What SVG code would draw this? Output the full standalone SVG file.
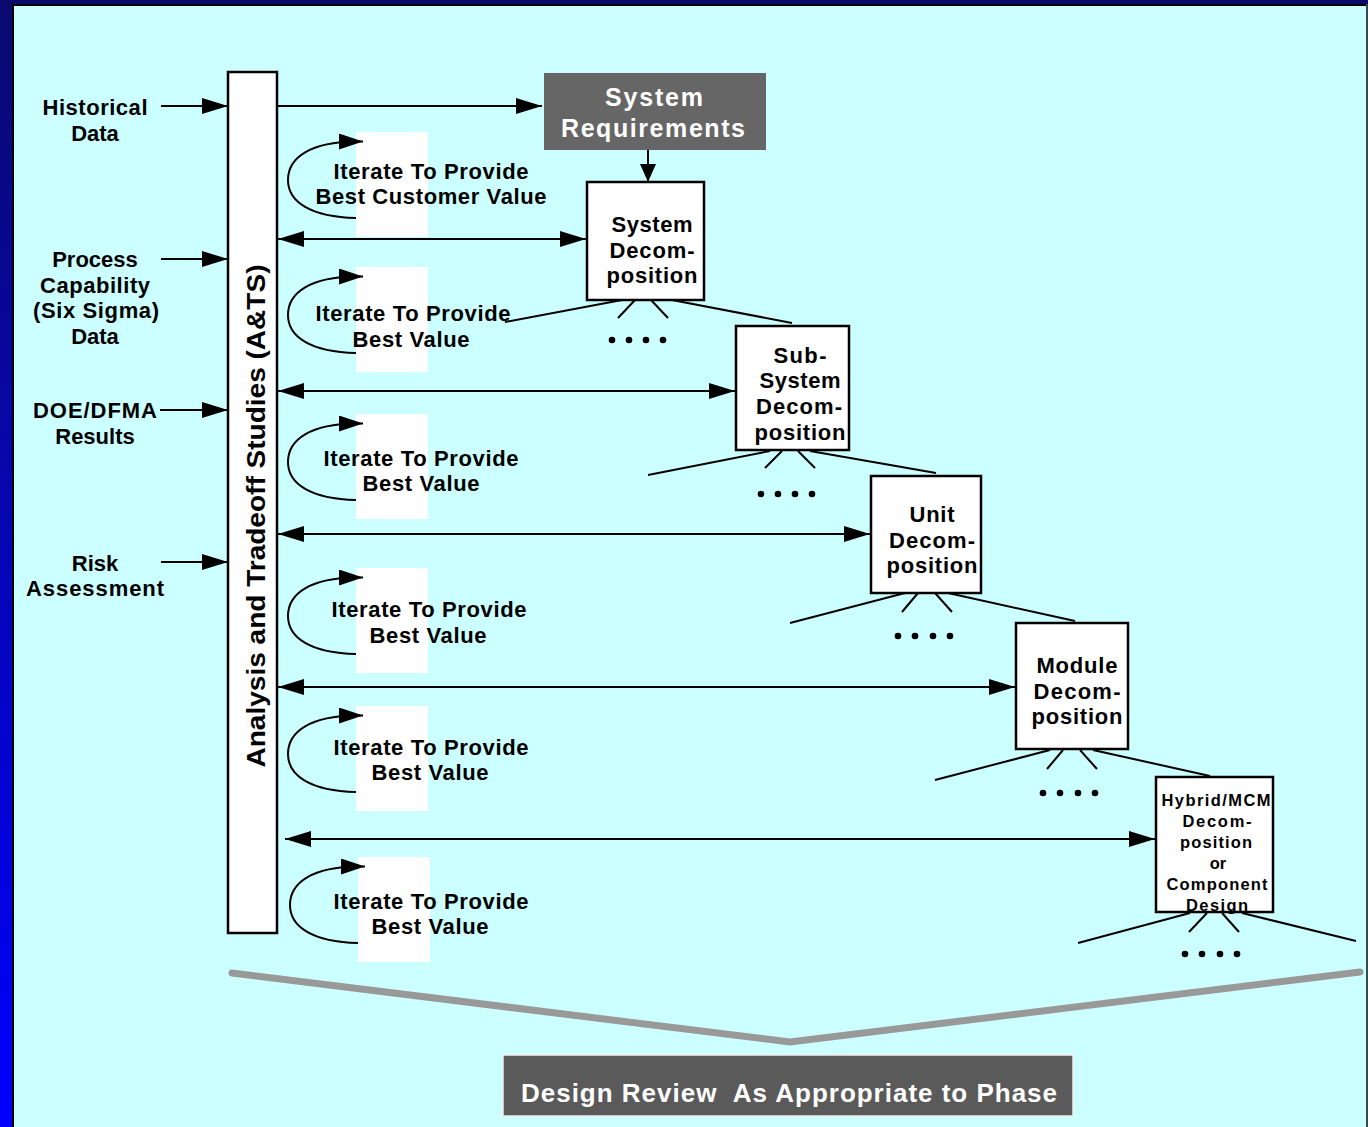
<svg xmlns="http://www.w3.org/2000/svg" width="1368" height="1127" viewBox="0 0 1368 1127">
<defs>
<linearGradient id="side" x1="0" y1="0" x2="0" y2="1">
<stop offset="0" stop-color="#0a0a70"/>
<stop offset="1" stop-color="#0000ff"/>
</linearGradient>
<marker id="ah" viewBox="0 0 26 16" refX="26" refY="8" markerWidth="26" markerHeight="16" markerUnits="userSpaceOnUse" orient="auto-start-reverse">
<path d="M0,0 L26,8 L0,16 z" fill="#000"/>
</marker>
<marker id="ahs" viewBox="0 0 18 16" refX="18" refY="8" markerWidth="18" markerHeight="16" markerUnits="userSpaceOnUse" orient="auto-start-reverse">
<path d="M0,0 L18,8 L0,16 z" fill="#000"/>
</marker>
<marker id="ahl" viewBox="0 0 24 16" refX="24" refY="8" markerWidth="24" markerHeight="16" markerUnits="userSpaceOnUse" orient="auto">
<path d="M0,0 L24,8 L0,16 z" fill="#000"/>
</marker>
<path id="loop" d="M0,86 C-45,85 -68,70 -68,48 C-68,25 -45,10 0,9.5 L7,9.5" fill="none" stroke="#000" stroke-width="2" marker-end="url(#ahl)"/>
</defs>
<style>
.t{font-family:"Liberation Sans",Arial,sans-serif;font-weight:bold;fill:#000;text-anchor:middle}
.lbl{font-size:22px}
.box{fill:#fff;stroke:#000;stroke-width:2.5}
.ln{stroke:#000;stroke-width:2;fill:none}
.arr{stroke:#000;stroke-width:2;fill:none;marker-end:url(#ah)}
.dbl{stroke:#000;stroke-width:2;fill:none;marker-start:url(#ah);marker-end:url(#ah)}
.wt{fill:#fff}
.dot{fill:#000}
</style>
<!-- background frame -->
<rect x="0" y="0" width="1368" height="1127" fill="url(#side)"/>
<rect x="0" y="0" width="1368" height="4" fill="#0a0a6a"/>
<rect x="12" y="4" width="1356" height="1123" fill="#000"/>
<rect x="14" y="6" width="1352" height="1121" fill="#ccffff"/>
<rect x="1366" y="4" width="2" height="1123" fill="#3a4a4a"/>

<!-- connectors -->
<g id="connectors">
<line class="arr" x1="161" y1="106" x2="228" y2="106"/>
<line class="arr" x1="161" y1="259" x2="228" y2="259"/>
<line class="arr" x1="160" y1="410" x2="228" y2="410"/>
<line class="arr" x1="161" y1="562" x2="228" y2="562"/>
<line class="arr" x1="278" y1="106" x2="542" y2="106"/>
<path class="ln" d="M648,150 L648,182" marker-end="url(#ahs)"/>
<line class="dbl" x1="278" y1="239" x2="586" y2="239"/>
<line class="dbl" x1="278" y1="391" x2="735" y2="391"/>
<line class="dbl" x1="278" y1="534" x2="870" y2="534"/>
<line class="dbl" x1="278" y1="687" x2="1015" y2="687"/>
<line class="dbl" x1="285" y1="839" x2="1155" y2="839"/>
<!-- tree lines -->
<path class="ln" d="M622,300 L505,322 M672,300 L792,323 M635,300 L618,318 M651,300 L668,318"/>
<path class="ln" d="M770,451 L648,475 M810,451 L936,473 M782,451 L765,468 M798,451 L815,468"/>
<path class="ln" d="M905,593 L790,623 M948,593 L1075,621 M918,593 L902,612 M935,593 L952,612"/>
<path class="ln" d="M1050,750 L935,780 M1093,750 L1210,776 M1063,750 L1047,769 M1080,750 L1097,769"/>
<path class="ln" d="M1190,913 L1078,943 M1242,913 L1356,941 M1207,913 L1189,932 M1222,913 L1239,932"/>
<!-- review V -->
<path d="M232,973 L790,1042 L1360,972" fill="none" stroke="#999" stroke-width="7" stroke-linecap="round" stroke-linejoin="miter"/>
</g>

<!-- dots -->
<g id="dots">
<circle class="dot" cx="612" cy="340" r="3.3"/><circle class="dot" cx="629" cy="340" r="3.3"/><circle class="dot" cx="646" cy="340" r="3.3"/><circle class="dot" cx="663" cy="340" r="3.3"/>
<circle class="dot" cx="761" cy="494" r="3.3"/><circle class="dot" cx="778" cy="494" r="3.3"/><circle class="dot" cx="795" cy="494" r="3.3"/><circle class="dot" cx="812" cy="494" r="3.3"/>
<circle class="dot" cx="898" cy="636" r="3.3"/><circle class="dot" cx="915" cy="636" r="3.3"/><circle class="dot" cx="933" cy="636" r="3.3"/><circle class="dot" cx="950" cy="636" r="3.3"/>
<circle class="dot" cx="1043" cy="793" r="3.3"/><circle class="dot" cx="1060" cy="793" r="3.3"/><circle class="dot" cx="1078" cy="793" r="3.3"/><circle class="dot" cx="1095" cy="793" r="3.3"/>
<circle class="dot" cx="1185" cy="954" r="3.3"/><circle class="dot" cx="1202" cy="954" r="3.3"/><circle class="dot" cx="1220" cy="954" r="3.3"/><circle class="dot" cx="1237" cy="954" r="3.3"/>
</g>

<!-- inputs -->
<g id="historical"><text class="t lbl" x="95" y="115" textLength="105">Historical</text><text class="t lbl" x="95" y="141">Data</text></g>
<g id="process">
<text class="t lbl" x="95" y="267">Process</text>
<text class="t lbl" x="95" y="293" textLength="110">Capability</text>
<text class="t lbl" x="96" y="318" textLength="126">(Six Sigma)</text>
<text class="t lbl" x="95" y="344">Data</text>
</g>
<g id="doe"><text class="t lbl" x="95" y="418" textLength="124">DOE/DFMA</text><text class="t lbl" x="95" y="444">Results</text></g>
<g id="risk"><text class="t lbl" x="95" y="571">Risk</text><text class="t lbl" x="95" y="596" textLength="138">Assessment</text></g>

<!-- A&TS bar -->
<g id="ats">
<rect class="box" x="228" y="72" width="49" height="861"/>
<text class="t" x="0" y="0" font-size="26" textLength="503" lengthAdjust="spacingAndGlyphs" transform="translate(265,516) rotate(-90)">Analysis and Tradeoff Studies (A&amp;TS)</text>
</g>

<!-- iterate loops -->
<g id="loop1"><rect class="wt" x="356" y="132" width="72" height="105"/><use href="#loop" x="356" y="132"/>
<text class="t lbl" x="431" y="179" textLength="195">Iterate To Provide</text><text class="t lbl" x="431" y="204" textLength="231">Best Customer Value</text></g>
<g id="loop2"><rect class="wt" x="356" y="267" width="72" height="105"/><use href="#loop" x="356" y="267"/>
<text class="t lbl" x="413" y="321" textLength="195">Iterate To Provide</text><text class="t lbl" x="411" y="347" textLength="117">Best Value</text></g>
<g id="loop3"><rect class="wt" x="356" y="414" width="72" height="105"/><use href="#loop" x="356" y="414"/>
<text class="t lbl" x="421" y="466" textLength="195">Iterate To Provide</text><text class="t lbl" x="421" y="491" textLength="117">Best Value</text></g>
<g id="loop4"><rect class="wt" x="356" y="568" width="72" height="105"/><use href="#loop" x="356" y="568"/>
<text class="t lbl" x="429" y="617" textLength="195">Iterate To Provide</text><text class="t lbl" x="428" y="643" textLength="117">Best Value</text></g>
<g id="loop5"><rect class="wt" x="356" y="706" width="72" height="105"/><use href="#loop" x="356" y="706"/>
<text class="t lbl" x="431" y="755" textLength="195">Iterate To Provide</text><text class="t lbl" x="430" y="780" textLength="117">Best Value</text></g>
<g id="loop6"><rect class="wt" x="358" y="857" width="72" height="105"/><use href="#loop" x="358" y="857"/>
<text class="t lbl" x="431" y="909" textLength="195">Iterate To Provide</text><text class="t lbl" x="430" y="934" textLength="117">Best Value</text></g>

<!-- System Requirements -->
<g id="sysreq">
<rect x="544" y="73" width="222" height="77" fill="#666"/>
<text class="t" x="654" y="106" font-size="25" style="fill:#fff" textLength="98">System</text>
<text class="t" x="653" y="137" font-size="25" style="fill:#fff" textLength="184">Requirements</text>
</g>

<g id="sysdecomp">
<rect class="box" x="587" y="182" width="117" height="118"/>
<text class="t lbl" x="652" y="232" textLength="81">System</text>
<text class="t lbl" x="652" y="258" textLength="85">Decom-</text>
<text class="t lbl" x="652" y="283" textLength="91">position</text>
</g>
<g id="subsys">
<rect class="box" x="736" y="326" width="113" height="124"/>
<text class="t lbl" x="800" y="363" textLength="53">Sub-</text>
<text class="t lbl" x="800" y="388" textLength="81">System</text>
<text class="t lbl" x="799" y="414" textLength="86">Decom-</text>
<text class="t lbl" x="800" y="440" textLength="91">position</text>
</g>
<g id="unit">
<rect class="box" x="871" y="476" width="110" height="117"/>
<text class="t lbl" x="932" y="522" textLength="45">Unit</text>
<text class="t lbl" x="932" y="548" textLength="86">Decom-</text>
<text class="t lbl" x="932" y="573" textLength="91">position</text>
</g>
<g id="module">
<rect class="box" x="1016" y="623" width="112" height="126"/>
<text class="t lbl" x="1077" y="673" textLength="81">Module</text>
<text class="t lbl" x="1077" y="699" textLength="87">Decom-</text>
<text class="t lbl" x="1077" y="724" textLength="91">position</text>
</g>
<g id="hybrid">
<rect class="box" x="1156" y="777" width="117" height="135"/>
<text class="t" font-size="16.5" x="1216" y="806" textLength="109">Hybrid/MCM</text>
<text class="t" font-size="16.5" x="1217" y="827" textLength="69">Decom-</text>
<text class="t" font-size="16.5" x="1216" y="848" textLength="72">position</text>
<text class="t" font-size="16.5" x="1218" y="869">or</text>
<text class="t" font-size="16.5" x="1217" y="890" textLength="101">Component</text>
<text class="t" font-size="16.5" x="1217" y="911" textLength="62">Design</text>
</g>

<g id="review">
<rect x="503" y="1055" width="570" height="61" fill="#5a5a5a" stroke="#f0f0f0" stroke-width="1.5"/>
<text class="t" x="789" y="1102" font-size="26" style="fill:#fff" textLength="536" lengthAdjust="spacing" xml:space="preserve">Design Review  As Appropriate to Phase</text>
</g>
</svg>
